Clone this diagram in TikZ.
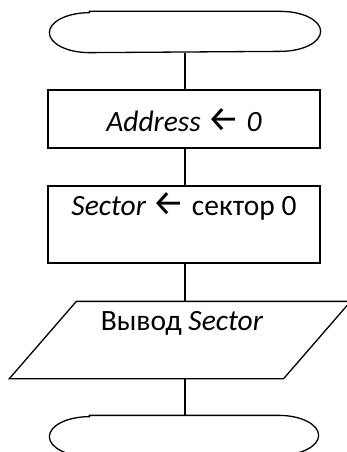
\documentclass[tikz,border=0pt]{standalone}
\usepackage{fontspec}
\setmainfont{Carlito}
\newfontfamily\arrfont{Fira Sans}
\newcommand{\larr}{{\arrfont\fontsize{36}{36}\selectfont ←}}
\begin{document}
\begin{tikzpicture}[x=1pt,y=1pt, line width=1.3pt,
  shapebox/.style={draw, minimum width=272pt, inner sep=0pt},
  ghost/.style={minimum width=#1, minimum height=40pt, inner sep=0pt},
  lbl/.style={anchor=base, font=\fontsize{29.5}{31}\selectfont, inner sep=0pt},
  link/.style={draw}]
\useasboundingbox (0,0) rectangle (347,-452);
% start terminator
\node[ghost=270pt] (start) at (185,-32) {};
\draw ([xshift=40pt]start.north west) -- ([xshift=-40pt]start.north east)
  arc[start angle=90,end angle=-90,x radius=40pt,y radius=20pt]
  -- ([xshift=40pt]start.south west)
  arc[start angle=270,end angle=90,x radius=40pt,y radius=20pt] -- cycle;
% boxes
\node[shapebox, minimum height=58pt] (b1) at (184,-119) {};
\node[lbl] (t1) at (184,-131) {\textit{Address} \larr{} \textit{0}};
\node[shapebox, minimum height=77pt] (b2) at (184,-224.5) {};
\node[lbl] (t2) at (184,-215) {\textit{Sector} \larr{} сектор 0};
% output parallelogram
\node[ghost=273pt, minimum height=76pt] (io) at (180,-340) {};
\draw ([xshift=33.5pt]io.north west) -- ([xshift=33.5pt]io.north east)
  -- ([xshift=-33.5pt]io.south east) -- ([xshift=-33.5pt]io.south west) -- cycle;
\node[lbl] (t3) at (182,-330) {Вывод \textit{Sector}};
% end terminator
\node[ghost=268pt] (stop) at (184,-436) {};
\draw ([xshift=40pt]stop.north west) -- ([xshift=-40pt]stop.north east)
  arc[start angle=90,end angle=-90,x radius=40pt,y radius=20pt]
  -- ([xshift=40pt]stop.south west)
  arc[start angle=270,end angle=90,x radius=40pt,y radius=20pt] -- cycle;
% connectors
\draw[link] (start.south) -- (start.south |- b1.north);
\draw[link] (b1.south -| start) -- (b2.north -| start);
\draw[link] (b2.south -| start) -- (io.north -| start);
\draw[link] (io.south -| start) -- (stop.north -| start);
\end{tikzpicture}
\end{document}
